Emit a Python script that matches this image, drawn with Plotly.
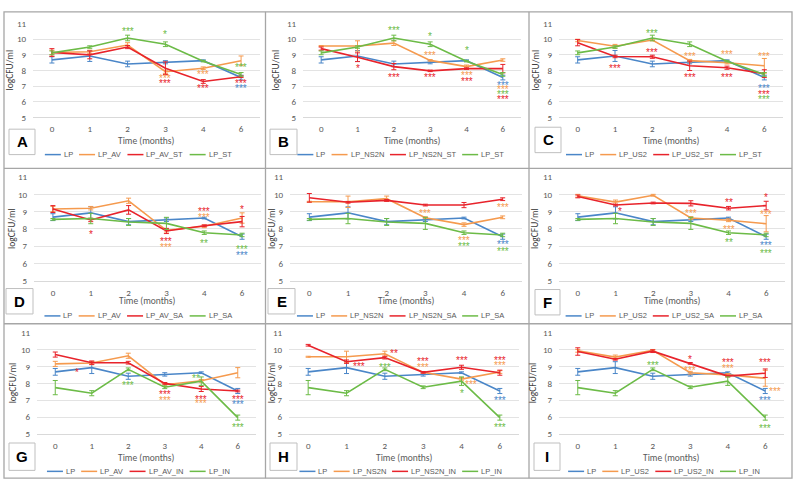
import plotly.graph_objects as go

# ---------------- data ----------------
months = ["0", "1", "2", "3", "4", "6"]

LP = [8.68, 8.93, 8.42, 8.53, 8.63, 7.55]
LP_err = [0.2, 0.35, 0.18, 0.1, 0.05, 0.15]

LP_ST = [9.13, 9.5, 10.08, 9.68, 8.6, 7.75]
LP_ST_err = [0.12, 0.08, 0.18, 0.15, 0.05, 0.12]
LP_SA = [8.55, 8.6, 8.4, 8.32, 7.78, 7.65]
LP_SA_err = [0.05, 0.3, 0.2, 0.35, 0.1, 0.1]
LP_IN = [7.75, 7.42, 8.83, 7.77, 8.13, 5.98]
LP_IN_err = [0.42, 0.15, 0.08, 0.08, 0.25, 0.15]

LP_AV = [9.15, 9.2, 9.63, 7.92, 8.15, 8.63]
LP_AV_err = [0.15, 0.1, 0.15, 0.1, 0.08, 0.3]
LP_NS2N = [9.57, 9.57, 9.75, 8.65, 8.25, 8.67]
LP_NS2N_err = [0.03, 0.33, 0.15, 0.05, 0.1, 0.08]
LP_US2 = [9.92, 9.55, 9.95, 8.63, 8.5, 8.3]
LP_US2_err = [0.08, 0.12, 0.05, 0.08, 0.08, 0.47]

LP_AV_ST = [9.15, 9.0, 9.5, 8.15, 7.3, 7.6]
LP_AV_ST_err = [0.25, 0.25, 0.1, 0.4, 0.12, 0.05]
LP_NS2N_ST = [9.4, 8.85, 8.25, 7.98, 8.12, 8.12]
LP_NS2N_ST_err = [0.1, 0.28, 0.2, 0.05, 0.05, 0.27]
LP_US2_ST = [9.78, 8.9, 8.88, 8.3, 8.18, 7.8]
LP_US2_ST_err = [0.2, 0.08, 0.1, 0.3, 0.1, 0.25]

LP_AV_SA = [9.15, 8.52, 9.1, 7.88, 8.18, 8.42]
LP_AV_SA_err = [0.2, 0.1, 0.25, 0.15, 0.05, 0.3]
LP_NS2N_SA = [9.8, 9.54, 9.65, 9.38, 9.38, 9.72]
LP_NS2N_SA_err = [0.25, 0.05, 0.05, 0.05, 0.15, 0.08]
LP_US2_SA = [9.88, 9.38, 9.5, 9.48, 9.2, 9.35]
LP_US2_SA_err = [0.08, 0.05, 0.05, 0.15, 0.1, 0.25]

LP_AV_IN = [9.7, 9.22, 9.22, 8.0, 7.67, 7.55]
LP_AV_IN_err = [0.15, 0.1, 0.08, 0.05, 0.15, 0.05]
LP_NS2N_IN = [10.25, 9.28, 9.52, 8.65, 8.95, 8.63]
LP_NS2N_IN_err = [0.05, 0.1, 0.08, 0.05, 0.12, 0.15]
LP_US2_IN = [9.88, 9.42, 9.9, 9.18, 8.43, 8.6]
LP_US2_IN_err = [0.22, 0.05, 0.08, 0.05, 0.05, 0.25]

# significance marks: (category index, logCFU/ml, label, series colour key)
stars_A = [(2, 10.65, "***", "g"), (3, 10.4, "*", "g"), (3, 7.6, "***", "o"), (3, 7.3, "***", "r"),
           (4, 7.9, "***", "o"), (4, 6.95, "***", "r"), (5, 8.3, "***", "g"), (5, 7.3, "***", "r"),
           (5, 6.95, "***", "b")]
stars_B = [(1, 8.25, "*", "r"), (2, 10.7, "***", "g"), (2, 7.65, "***", "r"), (3, 10.3, "*", "g"),
           (3, 9.1, "***", "o"), (3, 7.65, "***", "r"), (4, 9.4, "*", "g"), (4, 7.8, "***", "o"),
           (4, 7.45, "***", "r"), (5, 7.2, "***", "b"), (5, 6.9, "***", "o"), (5, 6.6, "***", "g"),
           (5, 6.3, "***", "r")]
stars_C = [(1, 8.28, "***", "r"), (2, 10.5, "***", "g"), (2, 9.27, "***", "r"), (3, 9.03, "***", "o"),
           (3, 7.65, "***", "r"), (4, 9.13, "***", "o"), (4, 7.69, "***", "r"), (5, 9.03, "***", "o"),
           (5, 6.96, "***", "b"), (5, 6.6, "***", "r"), (5, 6.27, "***", "g")]
stars_D = [(1, 7.82, "*", "r"), (3, 7.4, "***", "r"), (3, 7.02, "***", "o"), (4, 9.1, "***", "r"),
           (4, 8.77, "***", "o"), (4, 7.29, "**", "g"), (5, 9.26, "*", "r"), (5, 6.9, "***", "g"),
           (5, 6.57, "***", "b")]
stars_E = [(3, 9.02, "***", "o"), (4, 7.44, "***", "o"), (4, 7.07, "***", "g"), (5, 9.33, "***", "o"),
           (5, 7.22, "***", "b"), (5, 6.83, "***", "g")]
stars_F = [(1.13, 9.12, "*", "r"), (3, 8.98, "***", "o"), (4, 9.67, "**", "r"), (4, 8.1, "***", "o"),
           (4, 7.33, "**", "g"), (5, 9.94, "*", "r"), (5, 8.96, "***", "o"), (5, 7.13, "***", "b"),
           (5, 6.67, "***", "g")]
stars_G = [(0.6, 8.74, "*", "r"), (2, 8.0, "***", "g"), (3, 7.44, "***", "r"), (3, 7.13, "***", "o"),
           (3.86, 8.39, "**", "g"), (4, 7.19, "***", "r"), (4, 6.94, "***", "o"), (5, 7.15, "***", "r"),
           (5, 6.9, "***", "b"), (5, 5.49, "***", "g")]
stars_H = [(1.32, 9.1, "***", "r"), (2.24, 9.86, "**", "r"), (2, 9.07, "***", "g"), (3, 9.4, "***", "r"),
           (3, 9.07, "***", "o"), (4, 9.48, "***", "r"), (4.26, 8.06, "***", "o"), (4, 7.5, "*", "g"),
           (5, 9.48, "***", "r"), (5, 9.16, "***", "o"), (5, 7.12, "***", "b"), (5, 5.51, "***", "g")]
stars_I = [(2, 9.16, "***", "g"), (3, 9.54, "*", "r"), (3, 8.88, "***", "o"), (4, 9.35, "***", "r"),
           (4, 9.01, "***", "o"), (5, 9.35, "***", "r"), (5.27, 7.65, "***", "o"), (5, 7.12, "***", "b"),
           (5, 5.47, "***", "g")]

# ---------------- styling / layout ----------------
W, H = 795, 492
COL = {"b": "#4A86C8", "o": "#F59A4E", "r": "#E8232B", "g": "#6CBB47"}
FONT = "Carlito, 'Liberation Sans Narrow', 'Liberation Sans', Arial, sans-serif"
TXT = "#595959"


def fx(x):
    return x / W


def fy(y):
    return 1 - y / H


panels = [
    dict(letter="A", names=["LP", "LP_AV", "LP_AV_ST", "LP_ST"],
         data=[(LP, LP_err), (LP_AV, LP_AV_err), (LP_AV_ST, LP_AV_ST_err), (LP_ST, LP_ST_err)],
         stars=stars_A, xd=(33, 260), row=0, col=0, box=(9, 126, 35, 152), ylab=10),
    dict(letter="B", names=["LP", "LP_NS2N", "LP_NS2N_ST", "LP_ST"],
         data=[(LP, LP_err), (LP_NS2N, LP_NS2N_err), (LP_NS2N_ST, LP_NS2N_ST_err), (LP_ST, LP_ST_err)],
         stars=stars_B, xd=(303, 521), row=0, col=1, box=(270, 126, 297, 152), ylab=276),
    dict(letter="C", names=["LP", "LP_US2", "LP_US2_ST", "LP_ST"],
         data=[(LP, LP_err), (LP_US2, LP_US2_err), (LP_US2_ST, LP_US2_ST_err), (LP_ST, LP_ST_err)],
         stars=stars_C, xd=(559, 783), row=0, col=2, box=(535, 124, 561, 150), ylab=536),
    dict(letter="D", names=["LP", "LP_AV", "LP_AV_SA", "LP_SA"],
         data=[(LP, LP_err), (LP_AV, LP_AV_err), (LP_AV_SA, LP_AV_SA_err), (LP_SA, LP_SA_err)],
         stars=stars_D, xd=(34, 261), row=1, col=0, box=(6, 289, 33, 315), ylab=12),
    dict(letter="E", names=["LP", "LP_NS2N", "LP_NS2N_SA", "LP_SA"],
         data=[(LP, LP_err), (LP_NS2N, LP_NS2N_err), (LP_NS2N_SA, LP_NS2N_SA_err), (LP_SA, LP_SA_err)],
         stars=stars_E, xd=(290, 522), row=1, col=1, box=(268, 289, 295, 315), ylab=272),
    dict(letter="F", names=["LP", "LP_US2", "LP_US2_SA", "LP_SA"],
         data=[(LP, LP_err), (LP_US2, LP_US2_err), (LP_US2_SA, LP_US2_SA_err), (LP_SA, LP_SA_err)],
         stars=stars_F, xd=(559, 785), row=1, col=2, box=(535, 290, 560, 316), ylab=535),
    dict(letter="G", names=["LP", "LP_AV", "LP_AV_IN", "LP_IN"],
         data=[(LP, LP_err), (LP_AV, LP_AV_err), (LP_AV_IN, LP_AV_IN_err), (LP_IN, LP_IN_err)],
         stars=stars_G, xd=(37, 256), row=2, col=0, box=(9, 447, 35, 475), ylab=13),
    dict(letter="H", names=["LP", "LP_NS2N", "LP_NS2N_IN", "LP_IN"],
         data=[(LP, LP_err), (LP_NS2N, LP_NS2N_err), (LP_NS2N_IN, LP_NS2N_IN_err), (LP_IN, LP_IN_err)],
         stars=stars_H, xd=(289, 519), row=2, col=1, box=(270, 447, 297, 475), ylab=272),
    dict(letter="I", names=["LP", "LP_US2", "LP_US2_IN", "LP_IN"],
         data=[(LP, LP_err), (LP_US2, LP_US2_err), (LP_US2_IN, LP_US2_IN_err), (LP_IN, LP_IN_err)],
         stars=stars_I, xd=(559, 784), row=2, col=2, box=(534, 447, 560, 475), ylab=533),
]

ROW_PLOT = [(18, 114), (175, 281), (334, 438)]     # px of value 11 / value 5
ROW_XT = [138, 302, 462]                            # "Time (months)" centre
ROW_LEG = [152, 317, 476]                           # legend centre line
COL_BOUNDS = [(4, 265.5), (265.5, 529), (529, 792)]

series_keys = ["b", "o", "r", "g"]

# approx char widths (px) of legend font at 7.5px
CW = {"L": 4.2, "P": 5.0, "_": 4.2, "A": 5.0, "V": 5.0, "S": 5.0, "T": 4.6, "N": 5.4,
      "2": 4.2, "U": 5.4, "I": 2.1}

fig = go.Figure()
shapes = []
annotations = []
layout_axes = {}

for i, p in enumerate(panels, start=1):
    xa, ya = f"x{i}", f"y{i}"
    top, bot = ROW_PLOT[p["row"]]
    x0, x1 = p["xd"]
    layout_axes[f"xaxis{i}"] = dict(
        domain=[fx(x0), fx(x1)], anchor=ya, type="category", range=[-0.5, 5.5],
        showgrid=False, zeroline=False, showline=True, linecolor="#D9D9D9", linewidth=1,
        ticks="", tickfont=dict(size=9, color=TXT, family=FONT), ticklabelstandoff=3,
    )
    layout_axes[f"yaxis{i}"] = dict(
        domain=[fy(bot), fy(top)], anchor=xa, range=[5, 11], dtick=1, tick0=5,
        showgrid=True, gridcolor="#E3E3E3", gridwidth=1, zeroline=False, showline=False,
        ticks="", tickfont=dict(size=9, color=TXT, family=FONT), ticklabelstandoff=6,
    )
    for k, (vals, err) in zip(series_keys, p["data"]):
        fig.add_trace(go.Scatter(
            x=months, y=vals, mode="lines", xaxis=xa, yaxis=ya, showlegend=False,
            line=dict(color=COL[k], width=1.6), hoverinfo="skip",
            error_y=dict(type="data", array=err, visible=True, color=COL[k], thickness=1, width=2.5),
        ))
    for (cx, cy, lab, k) in p["stars"]:
        annotations.append(dict(
            x=cx, y=cy, xref=xa, yref=ya, text=lab, showarrow=False, yshift=-2,
            font=dict(size=10, color=COL[k], family="'Liberation Sans', Arial, sans-serif"),
            xanchor="center", yanchor="middle",
        ))
    # y-axis title
    annotations.append(dict(
        x=fx(p["ylab"]), y=fy((top + bot) / 2), xref="paper", yref="paper", text="logCFU/ml",
        textangle=-90, showarrow=False, xanchor="center", yanchor="middle",
        font=dict(size=9.5, color="#404040", family=FONT),
    ))
    # x-axis title
    annotations.append(dict(
        x=fx((x0 + x1) / 2), y=fy(ROW_XT[p["row"]]), xref="paper", yref="paper",
        text="Time (months)", showarrow=False, xanchor="center", yanchor="middle",
        font=dict(size=9.5, color=TXT, family=FONT),
    ))
    # letter box
    bx0, by0, bx1, by1 = p["box"]
    shapes.append(dict(type="rect", xref="paper", yref="paper", x0=fx(bx0), x1=fx(bx1),
                       y0=fy(by1), y1=fy(by0), line=dict(color="#BFBFBF", width=1),
                       fillcolor="white"))
    annotations.append(dict(
        x=fx((bx0 + bx1) / 2), y=fy((by0 + by1) / 2), xref="paper", yref="paper",
        text=f"<b>{p['letter']}</b>", showarrow=False, xanchor="center", yanchor="middle",
        font=dict(size=15, color="#000000", family="'Liberation Sans', Arial, sans-serif"),
    ))
    # legend (manual)
    LINE, GAP, SEP = 16, 2, 7
    widths = [sum(CW.get(c, 4.5) for c in n) for n in p["names"]]
    total = sum(LINE + GAP + w for w in widths) + SEP * 3
    cb0, cb1 = COL_BOUNDS[p["col"]]
    cur = (cb0 + cb1) / 2 + 3 - total / 2
    ly = ROW_LEG[p["row"]]
    for k, n, w in zip(series_keys, p["names"], widths):
        shapes.append(dict(type="line", xref="paper", yref="paper", x0=fx(cur), x1=fx(cur + LINE),
                           y0=fy(ly), y1=fy(ly), line=dict(color=COL[k], width=1.5)))
        annotations.append(dict(
            x=fx(cur + LINE + GAP), y=fy(ly), xref="paper", yref="paper", text=n, showarrow=False,
            xanchor="left", yanchor="middle", xshift=-1,
            font=dict(size=7.5, color=TXT, family="'Liberation Sans', Arial, sans-serif"),
        ))
        cur += LINE + GAP + w + SEP

# panel frame lines
FR = dict(color="#A6A6A6", width=1.3)
shapes.insert(0, dict(type="rect", xref="paper", yref="paper", x0=fx(4), x1=fx(792),
                      y0=fy(483), y1=fy(6), line=FR, layer="below"))
for xb in (265.5, 529):
    shapes.insert(0, dict(type="line", xref="paper", yref="paper", x0=fx(xb), x1=fx(xb),
                          y0=fy(483), y1=fy(6), line=FR, layer="below"))
for yb in (166, 325):
    shapes.insert(0, dict(type="line", xref="paper", yref="paper", x0=fx(4), x1=fx(792),
                          y0=fy(yb), y1=fy(yb), line=FR, layer="below"))

fig.update_layout(
    width=W, height=H, autosize=False,
    margin=dict(l=0, r=0, t=0, b=0, pad=0),
    paper_bgcolor="white", plot_bgcolor="white",
    shapes=shapes, annotations=annotations, showlegend=False,
    font=dict(family=FONT, color=TXT),
    **layout_axes,
)

fig.write_html("out.html", config={"displayModeBar": False},
               post_script="document.body.style.margin='0';document.body.style.overflow='hidden';")
